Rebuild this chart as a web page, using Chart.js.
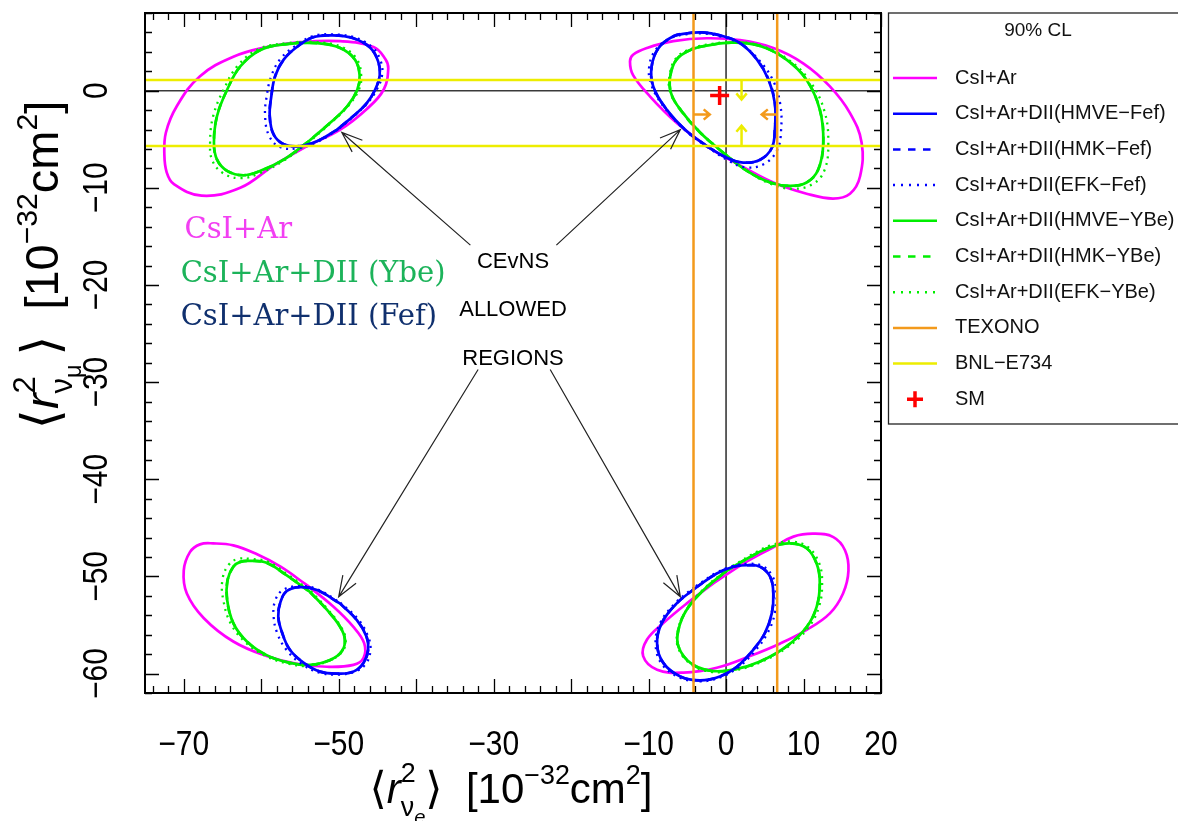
<!DOCTYPE html>
<html>
<head>
<meta charset="utf-8">
<script src="https://cdn.jsdelivr.net/npm/chart.js@4.4.1/dist/chart.umd.min.js"></script>
<style>
  html, body { margin: 0; padding: 0; background: #fff; }
</style>
</head>
<body>
<canvas id="chart" width="1178" height="821"></canvas>
<script>
// Axis ranges, in units of 10^-32 cm^2
const xRange = [-75, 20];
const yRange = [-62, 8];
const xLabelValues = [-70, -50, -30, -10, 0, 10, 20];
const yLabelValues = [0, -10, -20, -30, -40, -50, -60];
const majorStep = 10;
const minorStep = 2;

// Experimental bounds and Standard Model point
const texonoBounds = [-4.2, 6.6];     // <r2_nue>
const bnlBounds = [-5.7, 1.1];        // <r2_numu>
const smPoint = [-0.83, -0.48];
const texonoArrows = [[-4.2, -2.45, -2.1, -2.45], [6.6, -2.45, 4.6, -2.45]];
const bnlArrows = [[2.0, 1.1, 2.0, -0.9], [2.0, -5.7, 2.0, -3.6]];

// 90% CL contours: one closed loop per allowed region, [<r2_nue>, <r2_numu>]
// CsI+Ar
const csiArUL = [[-54.1,-5.7],[-58.4,-7.7],[-62.7,-10.0],[-67.7,-10.8],[-71.3,-9.6],[-72.2,-8.4],[-72.5,-6.6],[-72.3,-4.3],[-70.9,-1.6],[-67.9,1.5],[-63.6,3.5],[-59.3,4.5],[-55.0,5.0],[-49.8,5.1],[-45.5,4.5],[-44.0,3.3],[-43.6,2.3],[-44.2,0.1],[-46.4,-1.9],[-49.8,-4.0]];
const csiArUR = [[1.8,-7.7],[-2.5,-5.7],[-6.4,-3.3],[-9.8,-0.6],[-12.0,1.6],[-12.4,3.0],[-12.0,3.7],[-10.2,4.4],[-6.8,5.1],[-2.5,5.4],[1.8,5.2],[6.1,4.4],[10.0,2.8],[13.4,0.45],[16.0,-2.3],[17.5,-5.35],[17.3,-8.8],[16.0,-10.6],[13.8,-11.1],[10.4,-10.6],[6.1,-9.45]];
const csiArLL = [[-54.1,-50.9],[-50.7,-53.1],[-48.1,-55.2],[-46.7,-56.9],[-46.8,-58.4],[-48.1,-59.1],[-51.5,-59.3],[-55.4,-59.0],[-59.3,-58.2],[-63.6,-56.7],[-67.4,-54.3],[-69.6,-51.75],[-70.0,-49.4],[-69.2,-47.5],[-67.9,-46.7],[-66.2,-46.6],[-63.6,-46.8],[-60.6,-47.7],[-57.5,-49.0]];
const csiArLR = [[-1.6,-50.7],[2.2,-48.7],[6.1,-47.0],[8.7,-45.9],[11.3,-45.6],[13.85,-45.95],[15.35,-47.3],[15.8,-49.4],[15.1,-51.75],[13.4,-53.8],[10.4,-55.5],[7.0,-56.9],[3.1,-58.2],[-1.2,-59.4],[-5.5,-59.9],[-8.9,-59.6],[-10.7,-58.2],[-10.2,-56.5],[-8.1,-54.8],[-5.1,-52.8]];

// CsI+Ar+DII, Fef quenching (HMVE / HMK overlap, EFK dotted)
const fefUL = [[-50.2,-4.0],[-52.8,-5.2],[-55.0,-5.7],[-57.1,-5.5],[-58.4,-4.5],[-58.9,-2.6],[-58.7,-0.6],[-58.2,1.5],[-57.1,3.2],[-55.4,4.5],[-53.3,5.5],[-50.9,5.7],[-48.1,5.4],[-45.9,4.4],[-44.9,3.0],[-44.7,1.6],[-45.3,0.1],[-46.4,-1.3],[-48.1,-2.6]];
const fefUR = [[-2.5,-5.7],[-5.1,-4.15],[-7.65,-1.95],[-9.4,0.45],[-9.6,2.5],[-8.7,4.4],[-6.8,5.6],[-5.1,5.9],[-3.1,6.0],[-0.8,5.7],[1.8,4.9],[4.0,3.2],[5.5,1.1],[6.3,-1.3],[6.3,-4.0],[5.9,-5.9],[4.4,-7.1],[2.2,-7.4],[0.1,-6.9]];
const fefLL = [[-49.8,-52.8],[-47.65,-54.5],[-46.4,-56.2],[-46.2,-57.55],[-46.8,-58.9],[-48.1,-59.8],[-50.0,-60.0],[-52.4,-59.8],[-54.5,-58.9],[-56.3,-57.55],[-57.3,-55.8],[-57.8,-54.1],[-57.5,-52.6],[-56.7,-51.5],[-55.0,-51.1],[-52.8,-51.4]];
const fefLR = [[-3.8,-51.1],[-1.2,-49.7],[0.95,-49.0],[2.7,-48.85],[4.4,-49.0],[5.7,-50.05],[6.1,-51.75],[5.9,-53.8],[5.0,-55.85],[3.5,-57.55],[1.4,-59.3],[-0.8,-60.3],[-3.35,-60.7],[-5.9,-60.3],[-8.1,-58.9],[-8.9,-56.9],[-8.3,-54.8],[-6.4,-52.8]];
const efkFefUL = [[-50.1,-4.0],[-52.8,-5.3],[-55.2,-5.9],[-57.6,-5.8],[-59.0,-4.6],[-59.5,-2.6],[-59.3,-0.6],[-58.7,1.5],[-57.5,3.3],[-55.6,4.6],[-53.4,5.6],[-50.9,5.8],[-48.0,5.5],[-45.7,4.5],[-44.6,3.1],[-44.4,1.6],[-45.1,0.1],[-46.3,-1.3],[-48.0,-2.6]];
const efkFefUR = [[-2.4,-5.8],[-5.1,-4.2],[-7.7,-2.0],[-9.6,0.5],[-9.9,2.6],[-8.9,4.4],[-6.9,5.5],[-5.2,5.8],[-3.1,5.9],[-0.8,5.6],[1.9,4.8],[4.3,3.1],[6.1,1.0],[7.0,-1.4],[7.1,-4.1],[6.6,-6.1],[5.0,-7.5],[2.6,-7.9],[0.3,-7.2]];
const efkFefLL = [[-49.8,-52.7],[-47.5,-54.4],[-46.2,-56.2],[-45.9,-57.6],[-46.5,-59.0],[-47.9,-59.8],[-50.0,-60.1],[-52.5,-59.9],[-54.8,-59.0],[-56.7,-57.6],[-57.9,-55.9],[-58.4,-54.1],[-58.2,-52.5],[-57.2,-51.4],[-55.2,-51.0],[-52.8,-51.3]];
const efkFefLR = [[-3.9,-51.0],[-1.2,-49.6],[1.0,-48.9],[2.7,-48.7],[4.6,-48.9],[6.0,-50.0],[6.5,-51.8],[6.3,-53.8],[5.3,-55.9],[3.7,-57.7],[1.5,-59.4],[-0.8,-60.4],[-3.4,-60.8],[-6.0,-60.4],[-8.3,-59.0],[-9.1,-56.9],[-8.5,-54.8],[-6.5,-52.7]];

// CsI+Ar+DII, YBe quenching
const ybeUL = [[-54.1,-5.35],[-57.1,-7.1],[-60.1,-8.25],[-62.3,-8.7],[-64.4,-8.25],[-65.7,-7.1],[-66.1,-5.35],[-65.7,-2.6],[-64.4,0.1],[-62.7,2.5],[-60.1,4.2],[-56.7,4.8],[-52.8,4.9],[-49.8,4.4],[-47.9,3.2],[-47.3,1.6],[-47.6,0.1],[-48.9,-1.6],[-51.1,-3.3]];
const ybeUR = [[-0.35,-6.4],[-3.35,-4.3],[-5.9,-1.95],[-7.1,-0.25],[-7.2,1.5],[-6.4,3.2],[-4.6,4.2],[-2.1,4.7],[0.9,4.95],[4.4,4.6],[7.8,3.2],[10.4,1.1],[12.1,-1.95],[12.55,-5.35],[11.9,-8.1],[10.4,-9.45],[8.3,-9.8],[5.7,-9.45],[2.7,-8.25]];
const ybeLL = [[-53.7,-51.6],[-51.5,-53.45],[-49.8,-55.2],[-49.2,-56.5],[-49.6,-57.7],[-51.1,-58.6],[-53.7,-59.1],[-56.3,-58.9],[-59.3,-58.1],[-61.85,-56.7],[-63.6,-54.8],[-64.4,-52.4],[-64.35,-50.4],[-63.6,-49.0],[-62.7,-48.5],[-61.4,-48.4],[-59.3,-48.6],[-56.7,-49.9]];
const ybeLR = [[0.1,-49.4],[3.1,-48.0],[5.7,-47.0],[8.25,-46.6],[10.4,-47.1],[11.7,-48.7],[12.1,-50.7],[11.7,-53.1],[10.4,-55.2],[7.8,-57.2],[4.4,-58.75],[0.95,-59.6],[-2.1,-59.7],[-4.6,-58.9],[-6.15,-57.2],[-6.15,-55.5],[-5.1,-53.45],[-2.9,-51.4]];
const efkYbeUL = [[-54.0,-5.4],[-57.1,-7.2],[-60.2,-8.5],[-62.6,-9.0],[-64.9,-8.5],[-66.3,-7.2],[-66.6,-5.4],[-66.2,-2.6],[-64.8,0.2],[-63.0,2.6],[-60.3,4.3],[-56.7,4.9],[-52.8,5.0],[-49.6,4.5],[-47.7,3.3],[-47.1,1.6],[-47.4,0.1],[-48.8,-1.6],[-51.0,-3.3]];
const efkYbeUR = [[-0.3,-6.4],[-3.3,-4.3],[-5.9,-1.9],[-7.2,-0.2],[-7.3,1.5],[-6.5,3.3],[-4.6,4.3],[-2.0,4.8],[1.0,5.0],[4.6,4.6],[8.2,3.1],[10.9,0.9],[12.7,-2.1],[13.2,-5.4],[12.7,-8.2],[11.2,-9.6],[8.6,-10.1],[5.8,-9.6],[2.8,-8.3]];
const efkYbeLL = [[-53.6,-51.5],[-51.4,-53.4],[-49.7,-55.2],[-49.1,-56.5],[-49.5,-57.7],[-51.0,-58.6],[-53.7,-59.2],[-56.4,-59.0],[-59.4,-58.2],[-62.0,-56.8],[-63.9,-54.9],[-64.9,-52.4],[-65.0,-50.3],[-64.2,-48.8],[-63.0,-48.2],[-61.4,-48.2],[-59.1,-48.5],[-56.6,-49.8]];
const efkYbeLR = [[0.1,-49.3],[3.2,-47.8],[5.8,-46.8],[8.4,-46.4],[10.6,-47.0],[12.0,-48.6],[12.4,-50.7],[12.0,-53.1],[10.6,-55.3],[7.9,-57.3],[4.4,-58.85],[0.9,-59.7],[-2.1,-59.8],[-4.6,-59.0],[-6.2,-57.3],[-6.2,-55.5],[-5.1,-53.4],[-2.9,-51.3]];

// Annotations: arrows from the label block to each region, text anchors
const regionArrows = [[-33.0,-15.9,-49.6,-4.3],[-21.9,-15.9,-5.9,-4.0],[-32.0,-28.7,-50.0,-52.1],[-22.7,-28.7,-5.9,-52.1]];
const regionLabels = ['CEvNS', 'ALLOWED', 'REGIONS'];
const regionLabelPos = [[-27.5,-17.65],[-27.5,-22.6],[-27.5,-27.6]];
const comboLabels = ['CsI+Ar', 'CsI+Ar+DII (Ybe)', 'CsI+Ar+DII (Fef)'];
const comboLabelPos = [[-69.9,-14.4],[-70.4,-18.9],[-70.4,-23.3]];

const MAGENTA = '#ff00ff';
const BLUE = '#0000ff';
const GREEN = '#00ee00';
const ORANGE = '#f39a1c';
const YELLOW = '#eded00';
const RED = '#ff0000';
const SANS = '"Liberation Sans", Arial, "DejaVu Sans", sans-serif';

// join several closed loops into one dataset, broken by gaps
function loops(regions) {
    const out = [];
    regions.forEach((r, i) => {
        if (i) out.push({x: null, y: null});
        r.forEach(([x, y]) => out.push({x, y}));
        out.push({x: r[0][0], y: r[0][1]});
    });
    return out;
}

function contour(label, color, regions, style, order) {
    const dash = style === 'dashed' ? [8, 6] : style === 'dotted' ? [2, 4.8] : [];
    return {
        label, data: loops(regions), borderColor: color, backgroundColor: color,
        borderWidth: style === 'dotted' ? 2.3 : 2.7, borderDash: dash, lineStyle: style,
        showLine: true, tension: 0.4, pointRadius: 0, borderJoinStyle: 'round', order
    };
}

function verticals(vals) {
    const out = [];
    vals.forEach((v, i) => {
        if (i) out.push({x: null, y: null});
        out.push({x: v, y: yRange[0]}, {x: v, y: yRange[1]});
    });
    return out;
}

function horizontals(vals) {
    const out = [];
    vals.forEach((v, i) => {
        if (i) out.push({x: null, y: null});
        out.push({x: xRange[0], y: v}, {x: xRange[1], y: v});
    });
    return out;
}

const datasets = [
    contour('CsI+Ar', MAGENTA, [csiArUL, csiArUR, csiArLL, csiArLR], 'solid', 9),
    contour('CsI+Ar+DII(HMVE\u2212Fef)', BLUE, [fefUL, fefUR, fefLL, fefLR], 'solid', 5),
    contour('CsI+Ar+DII(HMK\u2212Fef)', BLUE, [fefUL, fefUR, fefLL, fefLR], 'dashed', 4),
    contour('CsI+Ar+DII(EFK\u2212Fef)', BLUE, [efkFefUL, efkFefUR, efkFefLL, efkFefLR], 'dotted', 3),
    contour('CsI+Ar+DII(HMVE\u2212YBe)', GREEN, [ybeUL, ybeUR, ybeLL, ybeLR], 'solid', 8),
    contour('CsI+Ar+DII(HMK\u2212YBe)', GREEN, [ybeUL, ybeUR, ybeLL, ybeLR], 'dashed', 7),
    contour('CsI+Ar+DII(EFK\u2212YBe)', GREEN, [efkYbeUL, efkYbeUR, efkYbeLL, efkYbeLR], 'dotted', 6),
    {
        label: 'TEXONO', data: verticals(texonoBounds), borderColor: ORANGE, backgroundColor: ORANGE,
        borderWidth: 2.5, showLine: true, tension: 0, pointRadius: 0, lineStyle: 'solid', order: 2
    },
    {
        label: 'BNL\u2212E734', data: horizontals(bnlBounds), borderColor: YELLOW, backgroundColor: YELLOW,
        borderWidth: 2.5, showLine: true, tension: 0, pointRadius: 0, lineStyle: 'solid', order: 1
    },
    {
        label: 'SM', data: [{x: smPoint[0], y: smPoint[1]}], borderColor: RED, backgroundColor: RED,
        pointStyle: 'cross', pointRadius: 9.5, pointBorderWidth: 3.5, showLine: false, lineStyle: 'cross', order: 0
    },
    {
        label: '', data: [...horizontals([0]), {x: null, y: null}, ...verticals([0])],
        borderColor: '#3a3a3a', borderWidth: 1.6, showLine: true, tension: 0, pointRadius: 0, order: 10
    }
];

// rich text: tokens with size scale, baseline shift (em) and italics
const xTitle = [
    {t: '\u27E8', s: 1.05}, {t: 'r', it: 1}, {t: '2', s: 0.64, dy: -0.5, stay: 1},
    {t: '\u03BD', s: 0.64, dy: 0.3}, {t: 'e', s: 0.48, dy: 0.5, it: 1},
    {t: '\u27E9', s: 1.05}, {t: '  [10'}, {t: '\u221232', s: 0.64, dy: -0.45}, {t: 'cm'},
    {t: '2', s: 0.64, dy: -0.45}, {t: ']'}
];
const yTitle = [
    {t: '\u27E8', s: 1.1}, {t: 'r', it: 1}, {t: '2', s: 0.66, dy: -0.5, stay: 1},
    {t: '\u03BD', s: 0.66, dy: 0.3}, {t: '\u03BC', s: 0.5, dy: 0.48}, {t: '\u2009', s: 0.9},
    {t: '\u27E9', s: 1.1}, {t: '  [10'}, {t: '\u221232', s: 0.64, dy: -0.45}, {t: 'cm'},
    {t: '2', s: 0.64, dy: -0.45}, {t: ']'}
];

function richText(ctx, tokens, size, draw) {
    let x = 0;
    tokens.forEach(tk => {
        ctx.font = (tk.it ? 'italic ' : '') + ((tk.s || 1) * size) + 'px ' + SANS;
        const w = ctx.measureText(tk.t).width;
        if (draw) ctx.fillText(tk.t, x, (tk.dy || 0) * size);
        if (!tk.stay) x += w;
    });
    return x;
}

function drawRichCentered(ctx, tokens, size, cx, baseY, angle) {
    ctx.save();
    ctx.translate(cx, baseY);
    ctx.rotate(angle);
    ctx.textAlign = 'left';
    ctx.textBaseline = 'alphabetic';
    const w = richText(ctx, tokens, size, false);
    ctx.translate(-w / 2, 0);
    richText(ctx, tokens, size, true);
    ctx.restore();
}

function arrow(ctx, x0, y0, x1, y1, head, spread) {
    const a = Math.atan2(y1 - y0, x1 - x0);
    ctx.beginPath();
    ctx.moveTo(x0, y0);
    ctx.lineTo(x1, y1);
    ctx.moveTo(x1 - head * Math.cos(a - spread), y1 - head * Math.sin(a - spread));
    ctx.lineTo(x1, y1);
    ctx.lineTo(x1 - head * Math.cos(a + spread), y1 - head * Math.sin(a + spread));
    ctx.stroke();
}

const fmt = v => (v < 0 ? '\u2212' : '') + Math.abs(v);

// frame, ticks, labels, annotations and the side legend
const decorations = {
    id: 'decorations',
    afterDatasetsDraw(chart) {
        const {ctx, chartArea: a, scales: {x, y}} = chart;
        ctx.save();

        // annotation arrows
        ctx.strokeStyle = '#222';
        ctx.lineWidth = 1.2;
        regionArrows.forEach(([x0, y0, x1, y1]) => {
            arrow(ctx, x.getPixelForValue(x0), y.getPixelForValue(y0),
                x.getPixelForValue(x1), y.getPixelForValue(y1), 22, 0.36);
        });

        ctx.lineWidth = 2.5;
        ctx.strokeStyle = ORANGE;
        texonoArrows.forEach(([x0, y0, x1, y1]) => {
            arrow(ctx, x.getPixelForValue(x0), y.getPixelForValue(y0),
                x.getPixelForValue(x1), y.getPixelForValue(y1), 8, 0.7);
        });
        ctx.strokeStyle = YELLOW;
        bnlArrows.forEach(([x0, y0, x1, y1]) => {
            arrow(ctx, x.getPixelForValue(x0), y.getPixelForValue(y0),
                x.getPixelForValue(x1), y.getPixelForValue(y1), 8, 0.7);
        });

        // region labels
        ctx.fillStyle = '#000';
        ctx.font = '22px ' + SANS;
        ctx.textAlign = 'center';
        ctx.textBaseline = 'middle';
        regionLabels.forEach((t, i) => {
            ctx.fillText(t, x.getPixelForValue(regionLabelPos[i][0]), y.getPixelForValue(regionLabelPos[i][1]));
        });
        const comboColors = ['#f23ff2', '#1cb35a', '#10306e'];
        ctx.font = '29px "DejaVu Serif", serif';
        ctx.textAlign = 'left';
        comboLabels.forEach((t, i) => {
            ctx.fillStyle = comboColors[i];
            ctx.fillText(t, x.getPixelForValue(comboLabelPos[i][0]), y.getPixelForValue(comboLabelPos[i][1]));
        });

        // frame and tick marks on all four sides
        ctx.strokeStyle = '#000';
        ctx.lineWidth = 1.3;
        ctx.beginPath();
        for (let v = Math.ceil(xRange[0] / minorStep) * minorStep; v <= xRange[1]; v += minorStep) {
            const len = v % majorStep === 0 ? 14 : 7;
            const p = Math.round(x.getPixelForValue(v)) + 0.5;
            ctx.moveTo(p, a.bottom); ctx.lineTo(p, a.bottom - len);
            ctx.moveTo(p, a.top); ctx.lineTo(p, a.top + len);
        }
        for (let v = Math.ceil(yRange[0] / minorStep) * minorStep; v <= yRange[1]; v += minorStep) {
            const len = v % majorStep === 0 ? 14 : 7;
            const p = Math.round(y.getPixelForValue(v)) + 0.5;
            ctx.moveTo(a.left, p); ctx.lineTo(a.left + len, p);
            ctx.moveTo(a.right, p); ctx.lineTo(a.right - len, p);
        }
        ctx.stroke();
        ctx.lineWidth = 2;
        ctx.strokeRect(a.left, a.top, a.right - a.left, a.bottom - a.top);

        // tick labels, glyphs a little taller than the regular face
        ctx.fillStyle = '#000';
        ctx.font = '30px ' + SANS;
        ctx.textAlign = 'center';
        ctx.textBaseline = 'alphabetic';
        xLabelValues.forEach(v => {
            ctx.save();
            ctx.translate(x.getPixelForValue(v), a.bottom + 62);
            ctx.scale(1, 1.15);
            ctx.fillText(fmt(v), 0, 0);
            ctx.restore();
        });
        yLabelValues.forEach(v => {
            ctx.save();
            ctx.translate(a.left - 38, y.getPixelForValue(v));
            ctx.rotate(-Math.PI / 2);
            ctx.scale(1, 1.15);
            ctx.fillText(fmt(v), 0, 0);
            ctx.restore();
        });

        // axis titles
        drawRichCentered(ctx, xTitle, 42, (a.left + a.right) / 2 - 2, a.bottom + 110, 0);
        drawRichCentered(ctx, yTitle, 47, a.left - 87, (a.top + a.bottom) / 2 - 88, -Math.PI / 2);

        // legend box
        const lx = a.right + 7, ly = a.top, lb = 424;
        ctx.strokeStyle = '#222';
        ctx.lineWidth = 1.3;
        ctx.strokeRect(lx + 0.5, ly, chart.width - lx + 10, lb - ly);
        ctx.font = '19px ' + SANS;
        ctx.fillStyle = '#111';
        ctx.textAlign = 'center';
        ctx.textBaseline = 'middle';
        ctx.fillText('90% CL', lx + 150, ly + 18);
        ctx.textAlign = 'left';
        ctx.font = '20px ' + SANS;
        chart.data.datasets.filter(ds => ds.label).forEach((ds, i) => {
            const ry = ly + 65 + i * 35.7;
            ctx.strokeStyle = ds.borderColor;
            if (ds.lineStyle === 'cross') {
                ctx.lineWidth = 3.5;
                ctx.setLineDash([]);
                ctx.beginPath();
                ctx.moveTo(lx + 19, ry); ctx.lineTo(lx + 35, ry);
                ctx.moveTo(lx + 27, ry - 8); ctx.lineTo(lx + 27, ry + 8);
                ctx.stroke();
            } else {
                ctx.lineWidth = 2.5;
                ctx.setLineDash(ds.lineStyle === 'dashed' ? [7.5, 7.5] : ds.lineStyle === 'dotted' ? [2, 6] : []);
                ctx.beginPath();
                ctx.moveTo(lx + 5, ry); ctx.lineTo(lx + 49, ry);
                ctx.stroke();
            }
            ctx.setLineDash([]);
            ctx.fillStyle = '#111';
            ctx.fillText(ds.label, lx + 67, ry);
        });
        ctx.restore();
    }
};

new Chart(document.getElementById('chart'), {
    type: 'scatter',
    data: { datasets },
    options: {
        responsive: false,
        animation: false,
        layout: { padding: { left: 145, right: 297, top: 10, bottom: 128 } },
        scales: {
            x: { type: 'linear', min: xRange[0], max: xRange[1], display: false },
            y: { type: 'linear', min: yRange[0], max: yRange[1], display: false }
        },
        plugins: { legend: { display: false }, tooltip: { enabled: false } }
    },
    plugins: [decorations]
});
</script>
</body>
</html>
